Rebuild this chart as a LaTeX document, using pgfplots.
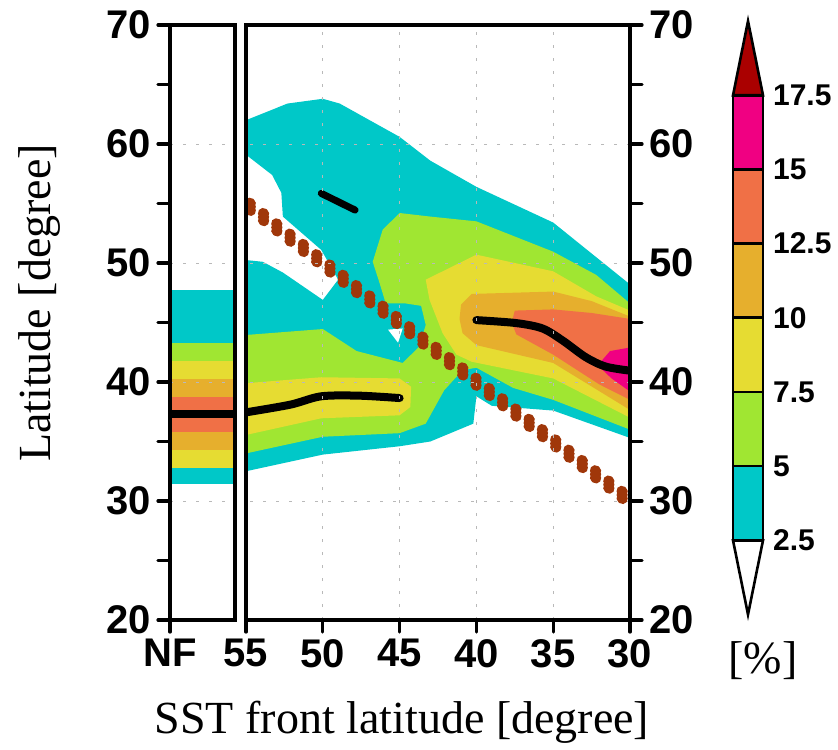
\documentclass[border=0pt]{standalone}
\usepackage{fontspec}
\setmainfont{Liberation Serif}
\setsansfont{Liberation Sans}
\usepackage{pgfplots}
\pgfplotsset{compat=1.18}

\definecolor{lv1}{RGB}{0,200,200}
\definecolor{lv2}{RGB}{160,230,50}
\definecolor{lv3}{RGB}{230,220,50}
\definecolor{lv4}{RGB}{230,175,45}
\definecolor{lv5}{RGB}{240,112,70}
\definecolor{lv6}{RGB}{240,0,130}
\definecolor{lv7}{RGB}{170,0,0}
\definecolor{frontc}{RGB}{160,55,10}

\pgfplotsset{
  panel/.style={
    scale only axis, anchor=south west,
    height=297.5pt, ymin=20, ymax=70,
    ytick={20,30,...,70}, minor ytick={25,35,...,65},
    axis line style={line width=1.6pt},
    tick align=outside, major tick length=6pt, minor tick length=6pt,
    tick style={line width=1.6pt, line cap=round, black},
    ymajorgrids,
    grid style={gray!55, line width=0.5pt, dash pattern=on 1.3pt off 5.2pt},
    axis on top,
    tick label style={font=\fontsize{20}{24}\selectfont\sffamily\bfseries},
    /pgf/number format/assume math mode=true,
  },
  band/.style={fill=#1, draw=none, forget plot},
  front/.style={frontc, line width=5.2pt, line cap=round,
    dash pattern=on 0.6pt off 7.8pt, dash phase=6pt},
}

\begin{document}
\begin{tikzpicture}
\path[use as bounding box] (0,0) rectangle (419pt,374.5pt);

% no-front panel
\begin{axis}[panel, at={(85pt,64.5pt)}, width=32.5pt,
    xmin=0, xmax=1, xtick={0}, xticklabels={NF},
    xtick pos=bottom, ytick pos=left]
\addplot[band=lv1] coordinates {(0,31.4) (1,31.4) (1,32.75) (0,32.75)};
\addplot[band=lv3] coordinates {(0,32.75) (1,32.75) (1,34.3) (0,34.3)};
\addplot[band=lv4] coordinates {(0,34.3) (1,34.3) (1,35.8) (0,35.8)};
\addplot[band=lv5] coordinates {(0,35.8) (1,35.8) (1,38.75) (0,38.75)};
\addplot[band=lv4] coordinates {(0,38.75) (1,38.75) (1,40.25) (0,40.25)};
\addplot[band=lv3] coordinates {(0,40.25) (1,40.25) (1,41.75) (0,41.75)};
\addplot[band=lv2] coordinates {(0,41.75) (1,41.75) (1,43.25) (0,43.25)};
\addplot[band=lv1] coordinates {(0,43.25) (1,43.25) (1,47.7) (0,47.7)};
\addplot[black, line width=4pt] coordinates {(0,37.3) (1,37.3)};
\end{axis}

% SST front panel
\begin{axis}[panel, at={(123pt,64.5pt)}, width=192pt,
    x dir=reverse, xmin=30, xmax=55, xtick={30,35,...,55},
    xmajorgrids, xtick pos=bottom, ytick pos=right, yticklabel pos=right]
% >= 2.5
\addplot[band=lv1] coordinates {(55,62.0) (52.3,63.4) (50,63.8) (48.9,63.4)
  (45,60.6) (43,58.6) (40,56.4) (35,53.4) (30,48.2) (30,35.3) (35,37.6)
  (39,38.0) (40,38.8) (40.2,36.5) (43,35.0) (45,34.6) (50,33.9) (55,32.5)
  (55,50.25) (53.9,50.1) (52.6,49.2) (50,46.9) (49,48.6) (50.1,51.1)
  (52.6,53.9) (52.7,55.9) (53.3,57.4) (55,59.1)};
\addplot[band=white] coordinates {(45.75,44.4) (44.8,44.5) (45.1,43.3)};
% >= 5
\addplot[band=lv2] coordinates {(55,34.0) (50,35.4) (45,35.7) (43.3,36.5)
  (42.1,39.3) (40.9,41.0) (40,41.2) (37.6,39.5) (35,38.5) (30,36.0)
  (30,46.6) (32.2,49.0) (35,50.95) (40,53.5) (43,53.9) (45,54.2)
  (46.1,52.8) (46.75,50.1) (46.3,48.3) (45.9,46.6) (44.6,46.6) (43.6,46.4)
  (43.3,44.8) (43.7,43.0) (44.8,41.6) (47.8,42.6) (50,44.45) (55,43.95)};
% >= 7.5
\addplot[band=lv3] coordinates {(55,35.55) (50.1,36.95) (45,37.2) (44.3,37.9)
  (44.25,39.6) (45,40.3) (50.1,40.4) (55,39.9)};
\addplot[band=lv3] coordinates {(43.3,48.6) (40,50.7) (35,49.3) (32.2,47.2)
  (30,46.0) (30,37.0) (35,40.3) (40.3,41.7) (41.3,42.3) (42.2,44.1) (43.05,46.9)};
% >= 10
\addplot[band=lv4] coordinates {(41.0,46.5) (40.3,47.4) (35,47.6) (32.5,46.8)
  (30,45.5) (30,37.65) (35,41.6) (40,43.1) (40.9,44.1) (41.1,45.3)};
% >= 12.5
\addplot[band=lv5] coordinates {(37.5,46.0) (35,46.1) (32.5,45.8) (30,45.3)
  (30,38.5) (32,39.8) (35,42.3) (37.4,44.0) (37.7,45.0)};
% >= 15
\addplot[band=lv6] coordinates {(30,42.9) (31.3,42.6) (32.1,41.4) (31.2,40.3) (30,39.2)};
% maxima
\addplot[black, line width=4pt, line cap=round, smooth] coordinates {
  (55,37.45) (52.1,38.1) (50.1,38.8) (47.6,38.85) (45,38.65)};
\addplot[black, line width=3.5pt, line cap=round] coordinates {(50.1,55.85) (47.9,54.45)};
\addplot[black, line width=4pt, line cap=round, smooth] coordinates {
  (40,45.2) (37.4,44.95) (35.7,44.5) (34.4,43.5) (32.9,42.1) (31.6,41.3) (30,40.95)};
% front latitude
\addplot[front, yshift=1.8pt] coordinates {(55,55) (30,30)};
\addplot[front, yshift=-1.8pt] coordinates {(55,55) (30,30)};
\addplot[front] coordinates {(55,55) (30,30)};
\end{axis}

% colour bar
\begin{axis}[scale only axis, anchor=south west, at={(366.5pt,67.25pt)},
    width=15pt, height=296.7pt, xmin=0, xmax=1, ymin=0, ymax=20,
    axis line style={draw=none}, xtick=\empty,
    ytick={2.5,5,7.5,10,12.5,15,17.5},
    yticklabels={2.5,5,7.5,10,12.5,15,17.5},
    yticklabel pos=right, major tick length=0pt,
    yticklabel style={xshift=1.5pt},
    tick label style={font=\fontsize{15}{17}\selectfont\sffamily\bfseries},
    /pgf/number format/assume math mode=true, clip=false]
\addplot[fill=white, draw=black, line width=1.3pt] coordinates {(0,2.5) (1,2.5) (0.5,0)} -- cycle;
\addplot[fill=lv1, draw=black, line width=1.3pt] coordinates {(0,2.5) (1,2.5) (1,5) (0,5)} -- cycle;
\addplot[fill=lv2, draw=black, line width=1.3pt] coordinates {(0,5) (1,5) (1,7.5) (0,7.5)} -- cycle;
\addplot[fill=lv3, draw=black, line width=1.3pt] coordinates {(0,7.5) (1,7.5) (1,10) (0,10)} -- cycle;
\addplot[fill=lv4, draw=black, line width=1.3pt] coordinates {(0,10) (1,10) (1,12.5) (0,12.5)} -- cycle;
\addplot[fill=lv5, draw=black, line width=1.3pt] coordinates {(0,12.5) (1,12.5) (1,15) (0,15)} -- cycle;
\addplot[fill=lv6, draw=black, line width=1.3pt] coordinates {(0,15) (1,15) (1,17.5) (0,17.5)} -- cycle;
\addplot[fill=lv7, draw=black, line width=1.3pt] coordinates {(0,17.5) (1,17.5) (0.5,20)} -- cycle;
\end{axis}

\node[rotate=90, anchor=base, font=\fontsize{23}{27}\selectfont] at (25pt,223pt) {Latitude [degree]};
\node[anchor=base, font=\fontsize{23}{27}\selectfont] at (201pt,8pt) {SST front latitude [degree]};
\node[anchor=base, font=\fontsize{23}{27}\selectfont] at (381.5pt,38pt) {[\%]};
\end{tikzpicture}
\end{document}
